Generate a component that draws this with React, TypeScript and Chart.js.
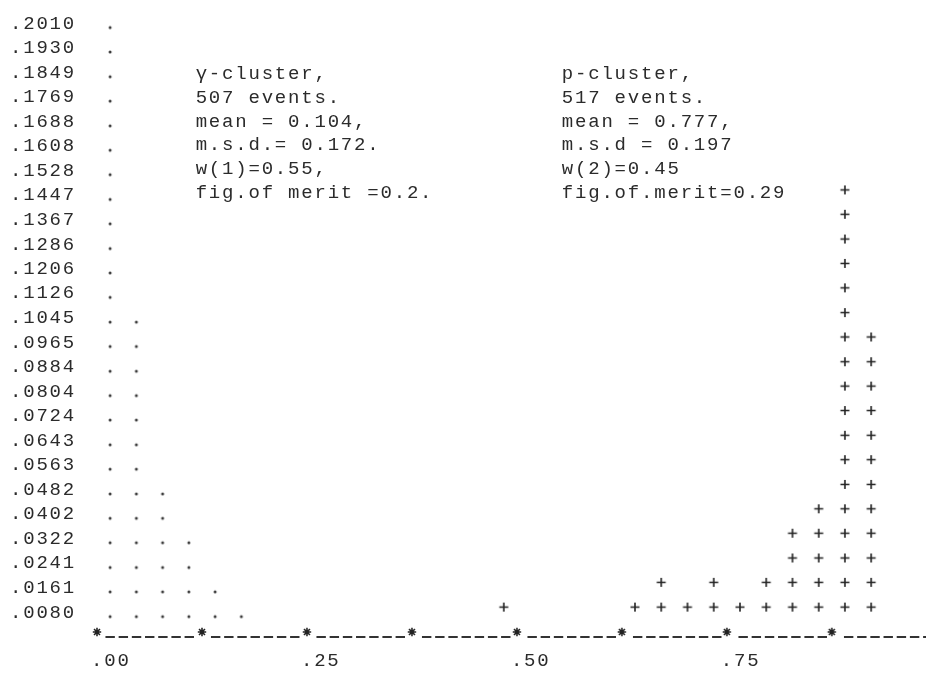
import React, { useEffect, useRef } from "react";
import { Chart, registerables } from "chart.js";

Chart.register(...registerables);

// ---- data ----
const rowValues = [
  0.008, 0.0161, 0.0241, 0.0322, 0.0402, 0.0482, 0.0563, 0.0643, 0.0724,
  0.0804, 0.0884, 0.0965, 0.1045, 0.1126, 0.1206, 0.1286, 0.1367, 0.1447,
  0.1528, 0.1608, 0.1688, 0.1769, 0.1849, 0.193, 0.201,
];
const rowLabels = [
  ".0080", ".0161", ".0241", ".0322", ".0402", ".0482", ".0563", ".0643", ".0724",
  ".0804", ".0884", ".0965", ".1045", ".1126", ".1206", ".1286", ".1367", ".1447",
  ".1528", ".1608", ".1688", ".1769", ".1849", ".1930", ".2010",
];

// gamma-cluster histogram (dots): bin centres and heights (rows)
const gammaBins = [0.015625, 0.046875, 0.078125, 0.109375, 0.140625, 0.171875];
const gammaCounts = [25, 13, 6, 4, 2, 1];

// p-cluster histogram (pluses)
const pBins = [
  0.484375, 0.640625, 0.671875, 0.703125, 0.734375, 0.765625, 0.796875,
  0.828125, 0.859375, 0.890625, 0.921875,
];
const pCounts = [1, 1, 2, 1, 2, 1, 2, 4, 5, 18, 12];

// axis
const axisMarks = [0, 0.125, 0.25, 0.375, 0.5, 0.625, 0.75, 0.875, 1.0];
const xTickValues = [0, 0.25, 0.5, 0.75, 1.0];
const xTickLabels = [".00", ".25", ".50", ".75", "1.00"];

const gammaText = [
  "\u03b3-cluster,",
  "507 events.",
  "mean = 0.104,",
  "m.s.d.= 0.172.",
  "w(1)=0.55,",
  "fig.of merit =0.2.",
];
const pText = [
  "p-cluster,",
  "517 events.",
  "mean = 0.777,",
  "m.s.d = 0.197",
  "w(2)=0.45",
  "fig.of.merit=0.29",
];

// ---- styling ----
const INK = "#2b2b2b";
const FONT_FAMILY = '"Liberation Mono", "DejaVu Sans Mono", monospace';
const FONT_SIZE = 19;
const LETTER_SPACING = "1.8px";
const CANVAS_W = 1100;
const CANVAS_H = 673;

function columnPoints(bins: number[], counts: number[]) {
  const pts: { x: number; y: number }[] = [];
  bins.forEach((x, i) => {
    for (let k = 0; k < counts[i]; k++) pts.push({ x, y: rowValues[k] });
  });
  return pts;
}

function makeDot() {
  const c = document.createElement("canvas");
  c.width = 6;
  c.height = 14;
  const g = c.getContext("2d")!;
  g.fillStyle = "#3a3a3a";
  g.beginPath();
  g.arc(3, 11, 1.5, 0, Math.PI * 2);
  g.fill();
  return c;
}

function makePlus() {
  const c = document.createElement("canvas");
  c.width = 12;
  c.height = 24;
  const g = c.getContext("2d")!;
  g.strokeStyle = "#222";
  g.lineWidth = 1.6;
  g.beginPath();
  g.moveTo(1.5, 6.5);
  g.lineTo(10.5, 6.5);
  g.moveTo(6, 2);
  g.lineTo(6, 11);
  g.stroke();
  return c;
}

function makeStar() {
  const c = document.createElement("canvas");
  c.width = 14;
  c.height = 24;
  const g = c.getContext("2d")!;
  g.strokeStyle = "#222";
  g.lineWidth = 1.6;
  const cx = 7,
    cy = 7,
    r = 4.2;
  g.beginPath();
  for (let a = 0; a < 4; a++) {
    const ang = (a * Math.PI) / 4;
    g.moveTo(cx - r * Math.cos(ang), cy - r * Math.sin(ang));
    g.lineTo(cx + r * Math.cos(ang), cy + r * Math.sin(ang));
  }
  g.stroke();
  return c;
}

export default function App() {
  const ref = useRef<HTMLCanvasElement>(null);

  useEffect(() => {
    if (!ref.current) return;
    const dot = makeDot();
    const plus = makePlus();
    const star = makeStar();

    // character cell of the printer and dashed axis pattern
    const cell = 105.5 / 8;
    const dashLen = 9.4;
    const inner = cell - dashLen;
    const pattern: number[] = [];
    for (let i = 0; i < 7; i++) {
      pattern.push(dashLen);
      pattern.push(i < 6 ? inner : cell * 2 - dashLen);
    }
    const firstDashStart = cell - dashLen / 2;
    const period = cell * 8;
    const dashOffset = period - firstDashStart;

    const xMin = -5 / 844;
    const xMax = xMin + (CANVAS_W - 92) / 844;

    const typewriter = {
      id: "typewriter",
      beforeDraw(chart: any) {
        chart.ctx.letterSpacing = LETTER_SPACING;
      },
      afterDraw(chart: any) {
        const ctx = chart.ctx;
        const xs = chart.scales.x;
        const ys = chart.scales.y;
        ctx.save();
        ctx.letterSpacing = LETTER_SPACING;
        ctx.font = `${FONT_SIZE}px ${FONT_FAMILY}`;
        ctx.fillStyle = INK;
        ctx.textAlign = "left";
        ctx.textBaseline = "middle";
        const y0 = ys.getPixelForValue(rowValues[22]) + 1;
        const lh = 23.9;
        gammaText.forEach((t, i) => {
          ctx.fillText(t, xs.getPixelForValue(0.1175), y0 + i * lh);
        });
        pText.forEach((t, i) => {
          ctx.fillText(t, xs.getPixelForValue(0.5535), y0 + i * lh);
        });
        ctx.restore();
      },
    };

    const chart = new Chart(ref.current, {
      type: "scatter",
      data: {
        datasets: [
          {
            label: "axis",
            data: [
              { x: 0, y: 0 },
              { x: xMax, y: 0 },
            ],
            showLine: true,
            borderColor: "#333",
            borderWidth: 2.2,
            borderDash: pattern,
            borderDashOffset: dashOffset,
            pointRadius: 0,
            clip: false,
          } as any,
          {
            label: "marks",
            data: axisMarks.map((x) => ({ x, y: 0 })),
            pointStyle: star,
            clip: false,
          } as any,
          {
            label: "gamma",
            data: columnPoints(gammaBins, gammaCounts),
            pointStyle: dot,
            clip: false,
          } as any,
          {
            label: "p",
            data: columnPoints(pBins, pCounts),
            pointStyle: plus,
            clip: false,
          } as any,
        ],
      },
      options: {
        animation: false,
        responsive: false,
        devicePixelRatio: 1,
        events: [],
        layout: { padding: { left: 10, top: 7, right: 0, bottom: 0 } },
        plugins: {
          legend: { display: false },
          tooltip: { enabled: false },
          title: { display: false },
        },
        scales: {
          x: {
            type: "linear",
            min: xMin,
            max: xMax,
            grid: { display: false, drawTicks: false },
            border: { display: false },
            afterBuildTicks: (scale: any) => {
              scale.ticks = xTickValues.map((v) => ({ value: v }));
            },
            afterFit: (scale: any) => {
              scale.height = 36;
            },
            ticks: {
              autoSkip: false,
              maxRotation: 0,
              align: "start",
              labelOffset: -6,
              padding: 13,
              color: INK,
              font: { family: FONT_FAMILY, size: FONT_SIZE },
              callback: (v: any) => {
                const i = xTickValues.indexOf(Number(v));
                return i >= 0 ? xTickLabels[i] : "";
              },
            },
          },
          y: {
            type: "linear",
            min: 0,
            max: 0.204,
            grid: { display: false, drawTicks: false },
            border: { display: false },
            afterBuildTicks: (scale: any) => {
              scale.ticks = rowValues.map((v) => ({ value: v }));
            },
            afterFit: (scale: any) => {
              scale.width = 82;
            },
            ticks: {
              autoSkip: false,
              crossAlign: "far",
              color: INK,
              font: { family: FONT_FAMILY, size: FONT_SIZE },
              callback: (v: any) => {
                const i = rowValues.indexOf(Number(v));
                return i >= 0 ? rowLabels[i] : "";
              },
            },
          },
        },
      } as any,
      plugins: [typewriter],
    });

    return () => chart.destroy();
  }, []);

  return (
    <div
      style={{
        position: "fixed",
        left: 0,
        top: 0,
        width: 926,
        height: 673,
        overflow: "hidden",
        background: "#fff",
      }}
    >
      <canvas
        ref={ref}
        width={CANVAS_W}
        height={CANVAS_H}
        style={{ display: "block", width: CANVAS_W, height: CANVAS_H }}
      />
    </div>
  );
}
